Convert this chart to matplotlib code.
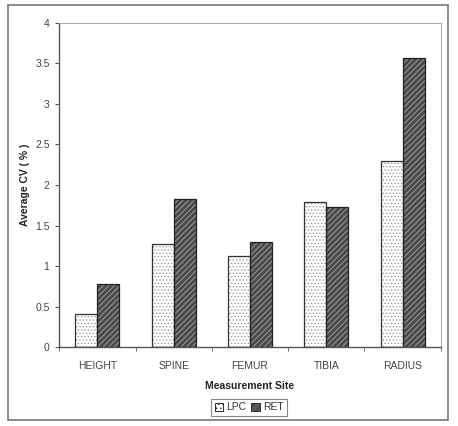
import matplotlib
matplotlib.use("Agg")
import matplotlib.pyplot as plt
import matplotlib.patches as mpatches
import numpy as np

plt.rcParams['font.family'] = ['Liberation Sans', 'DejaVu Sans']
plt.rcParams['hatch.linewidth'] = 0.6

categories = ["HEIGHT", "SPINE", "FEMUR", "TIBIA", "RADIUS"]
lpc = [0.41, 1.27, 1.12, 1.79, 2.30]
ret = [0.78, 1.83, 1.30, 1.73, 3.57]
series_names = ["LPC", "RET"]
yticks = [0, 0.5, 1, 1.5, 2, 2.5, 3, 3.5, 4]
ytick_labels = ["0", "0.5", "1", "1.5", "2", "2.5", "3", "3.5", "4"]

W, H = 458, 426
fig = plt.figure(figsize=(W/100, H/100), dpi=100)
ax = fig.add_axes([59.3/W, 1-347.3/H, 381.4/W, 324.6/H])

x = np.arange(len(categories))
bw = 0.288
# fills with hatch
ax.bar(x - bw/2, lpc, bw, color='white', edgecolor='#9a9a9a', hatch='.....', linewidth=0, zorder=2)
ax.bar(x + bw/2, ret, bw, color='#4a4a4a', edgecolor='#a8a8a8', hatch='//////', linewidth=0, zorder=2)
# outlines
ax.bar(x - bw/2, lpc, bw, fill=False, edgecolor='#333333', linewidth=0.9, zorder=3)
ax.bar(x + bw/2, ret, bw, fill=False, edgecolor='#222222', linewidth=0.9, zorder=3)

ax.set_xlim(-0.5, len(categories) - 0.5)
ax.set_ylim(0, 4)
ax.set_yticks(yticks)
ax.set_yticklabels(ytick_labels)
ax.set_xticks(x)
ax.set_xticklabels(categories)
ax.set_xticks(np.arange(-0.5, len(categories), 1), minor=True)
ax.tick_params(axis='x', which='major', length=0, pad=10, labelsize=7.5, colors='#444444')
ax.tick_params(axis='x', which='minor', length=3, direction='out', color='#555555')
ax.tick_params(axis='y', length=3, direction='out', labelsize=7.5, colors='#444444', pad=4)
ax.tick_params(axis='y', color='#555555')

for s in ['left', 'bottom']:
    ax.spines[s].set_color('#555555')
    ax.spines[s].set_linewidth(1.0)
for s in ['top', 'right']:
    ax.spines[s].set_color('#aaaaaa')
    ax.spines[s].set_linewidth(0.8)

ax.set_xlabel("Measurement Site", fontsize=7.5, fontweight='bold', color='#222222', labelpad=7)
ax.set_ylabel("Average CV ( % )", fontsize=7.5, fontweight='bold', color='#222222', labelpad=4)

handles = [mpatches.Patch(facecolor='white', edgecolor='#333333', hatch='....', linewidth=0.8),
           mpatches.Patch(facecolor='#5a5a5a', edgecolor='#333333', hatch='////', linewidth=0.8)]
leg = fig.legend(handles, series_names, loc='center', bbox_to_anchor=(249/W, 1-407.5/H),
                 ncol=2, fontsize=7.5, frameon=True, fancybox=False, edgecolor='#666666',
                 handlelength=0.8, handleheight=0.8, handletextpad=0.3, columnspacing=0.5,
                 borderpad=0.35)
leg.get_frame().set_linewidth(0.8)
for t in leg.get_texts():
    t.set_color('#333333')

# outer frame
fig.add_artist(mpatches.Rectangle((8/W, 1-420/H), 440/W, 415/H, transform=fig.transFigure,
                                  fill=False, edgecolor='#777777', linewidth=1.2))

fig.savefig("out.png", dpi=100)
